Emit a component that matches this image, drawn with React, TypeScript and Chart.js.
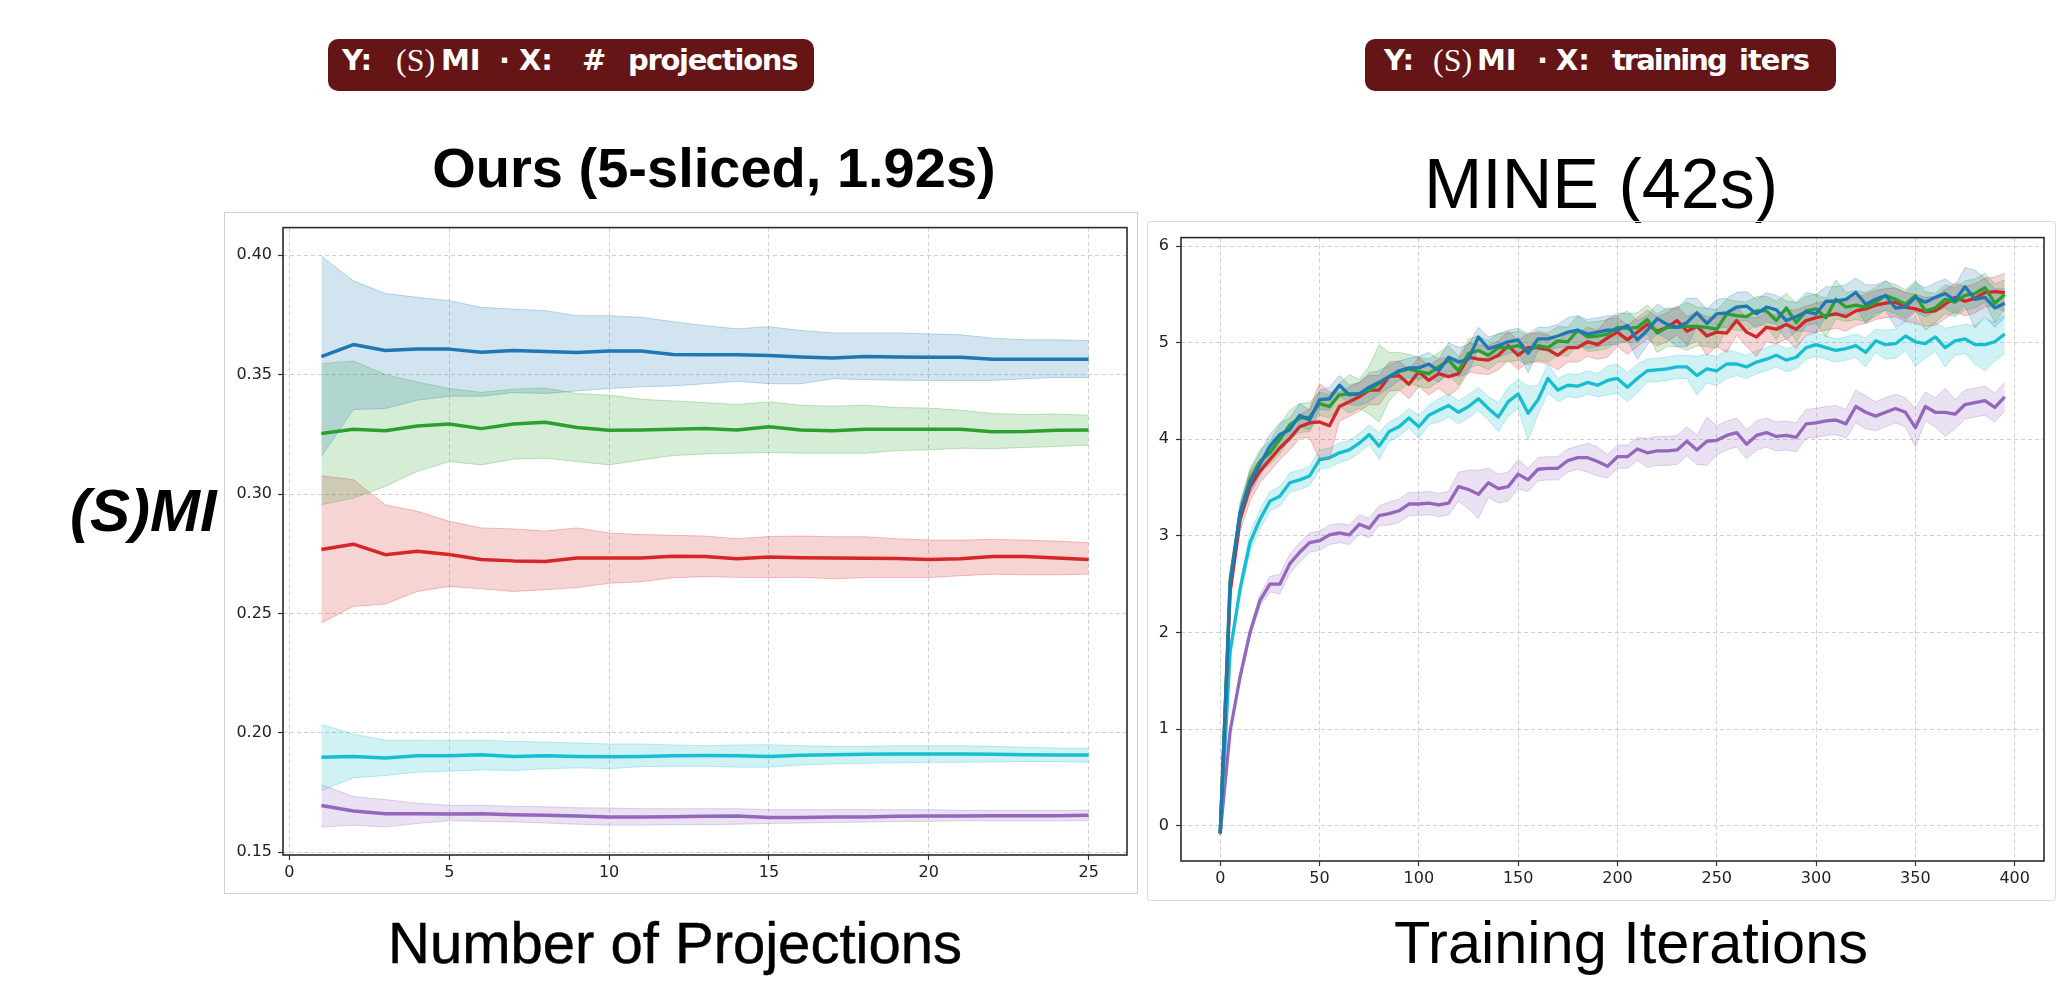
import React, { useEffect, useRef } from "react";
import { Chart, registerables } from "chart.js";

Chart.register(...registerables);
Chart.defaults.font.family = "'DejaVu Sans', sans-serif";

// ---------------- Left panel: SMI vs number of projections ----------------
const projX = [1, 2, 3, 4, 5, 6, 7, 8, 9, 10, 11, 12, 13, 14, 15, 16, 17, 18, 19, 20, 21, 22, 23, 24, 25];
const projXTicks = [0, 5, 10, 15, 20, 25];
const projYTicks = [0.15, 0.2, 0.25, 0.3, 0.35, 0.4];

const projBlueMean = [0.3576, 0.3626, 0.3601, 0.3607, 0.3607, 0.3594, 0.3601, 0.3597, 0.3593, 0.3599, 0.3599, 0.3584, 0.3583, 0.3583, 0.358, 0.3574, 0.357, 0.3576, 0.3574, 0.3573, 0.3573, 0.3565, 0.3565, 0.3565, 0.3565];
const projBlueUpper = [0.3997, 0.3893, 0.384, 0.3824, 0.381, 0.3782, 0.3775, 0.3768, 0.3747, 0.3747, 0.374, 0.3722, 0.3705, 0.3692, 0.3701, 0.3685, 0.3675, 0.3675, 0.3675, 0.3671, 0.3667, 0.3653, 0.3646, 0.3646, 0.3643];
const projBlueLower = [0.3157, 0.3354, 0.3358, 0.3393, 0.341, 0.341, 0.3425, 0.3421, 0.3432, 0.3442, 0.3449, 0.3453, 0.3462, 0.3472, 0.3462, 0.3462, 0.3483, 0.3479, 0.3477, 0.3476, 0.3476, 0.3476, 0.3483, 0.3488, 0.3488];

const projGreenMean = [0.3254, 0.3271, 0.3265, 0.3285, 0.3293, 0.3274, 0.3293, 0.3301, 0.3279, 0.3267, 0.3268, 0.3271, 0.3275, 0.3268, 0.3282, 0.3268, 0.3265, 0.3271, 0.3271, 0.3271, 0.3271, 0.3261, 0.3262, 0.3267, 0.3268];
const projGreenUpper = [0.3546, 0.3557, 0.3501, 0.3469, 0.3442, 0.3426, 0.3439, 0.3444, 0.3421, 0.3414, 0.3397, 0.339, 0.3383, 0.3375, 0.3386, 0.3372, 0.3368, 0.3372, 0.3362, 0.336, 0.3351, 0.3337, 0.3333, 0.3335, 0.333];
const projGreenLower = [0.2955, 0.2983, 0.3032, 0.3095, 0.3136, 0.3122, 0.3146, 0.315, 0.3136, 0.3122, 0.3143, 0.3161, 0.3168, 0.3171, 0.3174, 0.3171, 0.3171, 0.3171, 0.3182, 0.3185, 0.3192, 0.319, 0.3195, 0.3199, 0.3205];

const projRedMean = [0.2768, 0.279, 0.2746, 0.276, 0.2747, 0.2726, 0.272, 0.2717, 0.2732, 0.2732, 0.2732, 0.2739, 0.2738, 0.2729, 0.2736, 0.2733, 0.2732, 0.2731, 0.273, 0.2726, 0.2729, 0.2738, 0.2738, 0.2732, 0.2726];
const projRedUpper = [0.3076, 0.306, 0.2955, 0.2928, 0.2886, 0.2858, 0.2854, 0.2845, 0.2858, 0.2837, 0.283, 0.2827, 0.2824, 0.2813, 0.2822, 0.2824, 0.2821, 0.2821, 0.2813, 0.2807, 0.2807, 0.281, 0.2807, 0.2803, 0.2796];
const projRedLower = [0.246, 0.2529, 0.2539, 0.2592, 0.2613, 0.2603, 0.2592, 0.2599, 0.2608, 0.2626, 0.2633, 0.2649, 0.2654, 0.2651, 0.265, 0.2651, 0.2645, 0.265, 0.265, 0.265, 0.2658, 0.2664, 0.2662, 0.2662, 0.2664];

const projCyanMean = [0.1897, 0.1901, 0.1894, 0.1904, 0.1904, 0.1908, 0.1901, 0.1904, 0.1901, 0.19, 0.1901, 0.1904, 0.1905, 0.1904, 0.1901, 0.1906, 0.1908, 0.191, 0.1911, 0.1911, 0.1911, 0.191, 0.1908, 0.1907, 0.1907];
const projCyanUpper = [0.2036, 0.1994, 0.1969, 0.1969, 0.1967, 0.1969, 0.1964, 0.1961, 0.1957, 0.1953, 0.1953, 0.1949, 0.1946, 0.1949, 0.195, 0.1946, 0.1943, 0.1943, 0.1946, 0.1946, 0.1946, 0.1943, 0.1939, 0.1936, 0.1935];
const projCyanLower = [0.1758, 0.1811, 0.1821, 0.1835, 0.1839, 0.1844, 0.1842, 0.1849, 0.1853, 0.1849, 0.1858, 0.186, 0.186, 0.1856, 0.1856, 0.1865, 0.1869, 0.1872, 0.1874, 0.1876, 0.1876, 0.1878, 0.1879, 0.1879, 0.1876];

const projPurpleMean = [0.1695, 0.1672, 0.1661, 0.1661, 0.166, 0.1661, 0.1657, 0.1654, 0.1651, 0.1647, 0.1647, 0.1648, 0.165, 0.1651, 0.1645, 0.1645, 0.1647, 0.1647, 0.165, 0.1651, 0.1651, 0.1652, 0.1652, 0.1652, 0.1654];
const projPurpleUpper = [0.1783, 0.1733, 0.172, 0.1705, 0.1696, 0.1696, 0.1692, 0.169, 0.1686, 0.1685, 0.1682, 0.1682, 0.1682, 0.1682, 0.1678, 0.1678, 0.1678, 0.1678, 0.1678, 0.1678, 0.1675, 0.1675, 0.1675, 0.1675, 0.1675];
const projPurpleLower = [0.1605, 0.1613, 0.1605, 0.162, 0.1631, 0.1629, 0.1626, 0.1622, 0.1617, 0.1613, 0.1613, 0.1615, 0.1615, 0.1617, 0.162, 0.1622, 0.1624, 0.1626, 0.1628, 0.1629, 0.1631, 0.1631, 0.1631, 0.1631, 0.1631];

// ---------------- Right panel: MINE vs training iterations ----------------
const iterX = [
  0, 5, 10, 15, 20, 25, 30, 35, 40, 45,
  50, 55, 60, 65, 70, 75, 80, 85, 90, 95,
  100, 105, 110, 115, 120, 125, 130, 135, 140, 145,
  150, 155, 160, 165, 170, 175, 180, 185, 190, 195,
  200, 205, 210, 215, 220, 225, 230, 235, 240, 245,
  250, 255, 260, 265, 270, 275, 280, 285, 290, 295,
  300, 305, 310, 315, 320, 325, 330, 335, 340, 345,
  350, 355, 360, 365, 370, 375, 380, 385, 390, 395,
];
const iterXTicks = [0, 50, 100, 150, 200, 250, 300, 350, 400];
const iterYTicks = [0, 1, 2, 3, 4, 5, 6];

const iterBlueMean = [
  -0.08, 2.5, 3.24, 3.55, 3.74, 3.93, 4.05, 4.1, 4.25, 4.2,
  4.41, 4.42, 4.56, 4.46, 4.47, 4.54, 4.59, 4.65, 4.71, 4.74,
  4.74, 4.78, 4.71, 4.85, 4.8, 4.83, 5.06, 4.94, 4.97, 5.01,
  5.03, 4.89, 5.04, 5.04, 5.07, 5.11, 5.13, 5.09, 5.11, 5.13,
  5.13, 5.18, 5.03, 5.13, 5.25, 5.19, 5.16, 5.21, 5.31, 5.2,
  5.3, 5.31, 5.37, 5.38, 5.3, 5.37, 5.34, 5.23, 5.27, 5.32,
  5.3, 5.43, 5.43, 5.45, 5.52, 5.4, 5.45, 5.49, 5.36, 5.37,
  5.47, 5.42, 5.47, 5.51, 5.44, 5.58, 5.45, 5.47, 5.36, 5.41,
];
const iterBlueSpread = [
  0.02, 0.06, 0.1, 0.12, 0.12, 0.12, 0.12, 0.12, 0.12, 0.1,
  0.1, 0.12, 0.1, 0.1, 0.12, 0.15, 0.12, 0.12, 0.1, 0.1,
  0.12, 0.12, 0.12, 0.15, 0.15, 0.15, 0.1, 0.12, 0.12, 0.12,
  0.12, 0.2, 0.12, 0.12, 0.12, 0.15, 0.15, 0.15, 0.15, 0.15,
  0.15, 0.15, 0.2, 0.15, 0.15, 0.15, 0.2, 0.25, 0.15, 0.15,
  0.15, 0.15, 0.15, 0.15, 0.15, 0.15, 0.15, 0.2, 0.15, 0.2,
  0.2, 0.15, 0.15, 0.15, 0.15, 0.2, 0.15, 0.15, 0.2, 0.15,
  0.15, 0.15, 0.15, 0.15, 0.15, 0.2, 0.3, 0.2, 0.2, 0.15,
];

const iterGreenMean = [
  -0.08, 2.55, 3.24, 3.58, 3.77, 3.86, 4.0, 4.15, 4.22, 4.23,
  4.37, 4.34, 4.46, 4.47, 4.47, 4.51, 4.58, 4.65, 4.7, 4.73,
  4.7, 4.68, 4.75, 4.82, 4.71, 4.89, 4.92, 4.87, 4.95, 4.95,
  4.97, 4.92, 4.97, 4.95, 5.02, 5.01, 5.13, 5.06, 5.07, 5.09,
  5.16, 5.15, 5.16, 5.24, 5.1, 5.16, 5.16, 5.17, 5.17, 5.16,
  5.14, 5.3, 5.28, 5.27, 5.33, 5.33, 5.23, 5.36, 5.21, 5.33,
  5.35, 5.26, 5.45, 5.37, 5.39, 5.37, 5.42, 5.49, 5.45, 5.4,
  5.49, 5.33, 5.36, 5.45, 5.42, 5.49, 5.51, 5.57, 5.41, 5.5,
];
const iterGreenSpread = [
  0.02, 0.06, 0.1, 0.12, 0.12, 0.12, 0.15, 0.15, 0.15, 0.15,
  0.12, 0.12, 0.12, 0.2, 0.15, 0.25, 0.4, 0.25, 0.2, 0.15,
  0.15, 0.15, 0.15, 0.15, 0.15, 0.15, 0.15, 0.15, 0.15, 0.15,
  0.15, 0.15, 0.15, 0.15, 0.15, 0.15, 0.15, 0.15, 0.15, 0.15,
  0.15, 0.15, 0.15, 0.15, 0.2, 0.2, 0.2, 0.25, 0.2, 0.2,
  0.2, 0.15, 0.15, 0.15, 0.15, 0.15, 0.2, 0.15, 0.2, 0.15,
  0.15, 0.2, 0.2, 0.15, 0.15, 0.15, 0.15, 0.15, 0.15, 0.15,
  0.15, 0.2, 0.15, 0.15, 0.15, 0.15, 0.15, 0.15, 0.2, 0.15,
];

const iterRedMean = [
  -0.08, 2.42, 3.17, 3.51, 3.67, 3.79, 3.91, 4.01, 4.13, 4.17,
  4.18, 4.14, 4.34, 4.39, 4.44, 4.51, 4.51, 4.65, 4.66, 4.57,
  4.7, 4.61, 4.68, 4.65, 4.68, 4.85, 4.83, 4.82, 4.87, 4.97,
  4.87, 4.95, 4.95, 4.93, 4.87, 4.95, 4.95, 5.01, 4.98, 5.05,
  5.11, 5.03, 5.11, 5.19, 5.12, 5.16, 5.23, 5.12, 5.17, 5.07,
  5.11, 5.1, 5.23, 5.11, 5.06, 5.16, 5.14, 5.19, 5.14, 5.23,
  5.26, 5.28, 5.3, 5.27, 5.33, 5.35, 5.39, 5.41, 5.42, 5.37,
  5.35, 5.32, 5.33, 5.4, 5.47, 5.43, 5.46, 5.52, 5.53, 5.52,
];
const iterRedSpread = [
  0.02, 0.06, 0.12, 0.15, 0.12, 0.12, 0.12, 0.12, 0.12, 0.15,
  0.4, 0.35, 0.15, 0.15, 0.15, 0.15, 0.15, 0.15, 0.15, 0.15,
  0.15, 0.15, 0.15, 0.2, 0.15, 0.15, 0.15, 0.15, 0.15, 0.15,
  0.15, 0.15, 0.15, 0.15, 0.15, 0.15, 0.15, 0.15, 0.15, 0.2,
  0.15, 0.15, 0.15, 0.15, 0.15, 0.15, 0.15, 0.15, 0.15, 0.2,
  0.15, 0.2, 0.15, 0.15, 0.2, 0.15, 0.15, 0.15, 0.2, 0.15,
  0.15, 0.15, 0.15, 0.15, 0.15, 0.15, 0.15, 0.15, 0.15, 0.15,
  0.15, 0.15, 0.15, 0.15, 0.15, 0.15, 0.15, 0.15, 0.15, 0.2,
];

const iterCyanMean = [
  -0.08, 1.8, 2.45, 2.93, 3.17, 3.36, 3.41, 3.55, 3.58, 3.62,
  3.79, 3.81, 3.86, 3.89, 3.96, 4.05, 3.93, 4.08, 4.13, 4.22,
  4.13, 4.25, 4.3, 4.35, 4.28, 4.34, 4.42, 4.32, 4.23, 4.39,
  4.47, 4.27, 4.41, 4.63, 4.51, 4.56, 4.55, 4.59, 4.56, 4.61,
  4.63, 4.54, 4.63, 4.71, 4.72, 4.73, 4.75, 4.75, 4.66, 4.73,
  4.71, 4.78, 4.78, 4.75, 4.8, 4.83, 4.87, 4.82, 4.85, 4.95,
  4.98, 4.95, 4.92, 4.94, 4.97, 4.9, 5.02, 4.98, 4.99, 5.07,
  5.01, 4.99, 5.06, 4.95, 5.02, 5.04, 4.98, 4.98, 5.01, 5.09,
];
const iterCyanSpread = [
  0.02, 0.06, 0.08, 0.1, 0.1, 0.1, 0.1, 0.1, 0.1, 0.1,
  0.1, 0.1, 0.1, 0.1, 0.1, 0.1, 0.14, 0.1, 0.1, 0.1,
  0.12, 0.1, 0.12, 0.12, 0.12, 0.12, 0.12, 0.12, 0.15, 0.15,
  0.15, 0.28, 0.15, 0.15, 0.12, 0.12, 0.12, 0.12, 0.12, 0.15,
  0.15, 0.15, 0.15, 0.12, 0.12, 0.12, 0.12, 0.12, 0.2, 0.15,
  0.15, 0.15, 0.12, 0.12, 0.12, 0.12, 0.12, 0.12, 0.12, 0.12,
  0.12, 0.12, 0.12, 0.12, 0.12, 0.15, 0.12, 0.15, 0.15, 0.15,
  0.25, 0.15, 0.15, 0.2, 0.15, 0.15, 0.2, 0.27, 0.2, 0.2,
];

const iterPurpleMean = [
  -0.08, 0.98, 1.54, 2.0, 2.33, 2.5, 2.5, 2.71, 2.83, 2.93,
  2.95, 3.01, 3.03, 3.01, 3.12, 3.08, 3.21, 3.23, 3.26, 3.33,
  3.33, 3.34, 3.32, 3.34, 3.51, 3.48, 3.43, 3.55, 3.49, 3.51,
  3.64, 3.58, 3.69, 3.7, 3.7, 3.78, 3.81, 3.81, 3.77, 3.72,
  3.82, 3.82, 3.9, 3.86, 3.88, 3.88, 3.89, 3.98, 3.89, 3.98,
  3.99, 4.04, 4.07, 3.95, 4.04, 4.07, 4.03, 4.04, 4.02, 4.16,
  4.17, 4.19, 4.2, 4.16, 4.34, 4.28, 4.24, 4.28, 4.32, 4.28,
  4.12, 4.34, 4.28, 4.28, 4.26, 4.36, 4.38, 4.4, 4.33, 4.44,
];
const iterPurpleSpread = [
  0.02, 0.03, 0.04, 0.05, 0.06, 0.08, 0.1, 0.1, 0.1, 0.1,
  0.1, 0.1, 0.1, 0.1, 0.1, 0.1, 0.1, 0.12, 0.12, 0.12,
  0.12, 0.12, 0.12, 0.12, 0.15, 0.2, 0.25, 0.15, 0.15, 0.15,
  0.15, 0.12, 0.12, 0.12, 0.12, 0.12, 0.12, 0.15, 0.15, 0.12,
  0.12, 0.12, 0.12, 0.15, 0.15, 0.15, 0.15, 0.15, 0.15, 0.25,
  0.15, 0.15, 0.15, 0.15, 0.15, 0.15, 0.15, 0.15, 0.15, 0.15,
  0.15, 0.15, 0.15, 0.15, 0.17, 0.17, 0.15, 0.15, 0.15, 0.15,
  0.2, 0.15, 0.15, 0.25, 0.15, 0.15, 0.15, 0.15, 0.15, 0.15,
];

// ---------------- helpers ----------------
const BLUE = [31, 119, 180];
const GREEN = [44, 160, 44];
const RED = [214, 39, 40];
const CYAN = [23, 190, 207];
const PURPLE = [148, 103, 189];

const rgba = (c: number[], a: number) => `rgba(${c[0]},${c[1]},${c[2]},${a})`;

function series(xs: number[], mean: number[], upper: number[], lower: number[], c: number[], lw: number) {
  const pts = (arr: number[]) => xs.map((x, i) => ({ x, y: arr[i] }));
  return [
    {
      data: pts(upper), borderColor: rgba(c, 0.28), borderWidth: 1, backgroundColor: rgba(c, 0.2),
      fill: "+1", pointRadius: 0, tension: 0,
    },
    {
      data: pts(lower), borderColor: rgba(c, 0.28), borderWidth: 1, backgroundColor: rgba(c, 0.2),
      fill: false, pointRadius: 0, tension: 0,
    },
    {
      data: pts(mean), borderColor: rgba(c, 1), borderWidth: lw, fill: false, pointRadius: 0, tension: 0,
      borderJoinStyle: "round", borderCapStyle: "butt",
    },
  ];
}

const withSpread = (mean: number[], spread: number[], sign: number) => mean.map((m, i) => m + sign * spread[i]);

const spinePlugin = {
  id: "spines",
  afterDatasetsDraw(chart: any) {
    const { ctx, chartArea: a } = chart;
    ctx.save();
    ctx.setLineDash([]);
    ctx.strokeStyle = "#2b2b2b";
    ctx.lineWidth = 1.6;
    ctx.strokeRect(a.left, a.top, a.right - a.left, a.bottom - a.top);
    ctx.restore();
  },
};

function axis(min: number, max: number, ticks: number[], fmt: (v: number) => string, fit: (s: any) => void, pad: number) {
  return {
    type: "linear",
    min,
    max,
    afterBuildTicks: (s: any) => {
      s.ticks = ticks.map((v) => ({ value: v }));
    },
    afterFit: fit,
    grid: { color: "#cfcfcf", lineWidth: 1, tickColor: "#333", tickLength: 5, tickWidth: 1.2 },
    border: { display: false, dash: [4, 3] },
    ticks: {
      padding: pad,
      color: "#222",
      font: { family: "'DejaVu Sans', sans-serif", size: 16 },
      maxRotation: 0,
      autoSkip: false,
      callback: (v: any) => fmt(Number(v)),
    },
  };
}

function makeConfig(datasets: any[], x: any, y: any, padding: any) {
  return {
    type: "line",
    data: { datasets },
    options: {
      animation: false,
      responsive: false,
      events: [],
      layout: { padding },
      plugins: {
        legend: { display: false },
        tooltip: { enabled: false },
        filler: { propagate: false, drawTime: "beforeDatasetsDraw" },
      },
      scales: { x, y },
    },
    plugins: [spinePlugin],
  } as any;
}

function leftConfig() {
  const ds = [
    ...series(projX, projBlueMean, projBlueUpper, projBlueLower, BLUE, 3.5),
    ...series(projX, projGreenMean, projGreenUpper, projGreenLower, GREEN, 3.5),
    ...series(projX, projRedMean, projRedUpper, projRedLower, RED, 3.5),
    ...series(projX, projCyanMean, projCyanUpper, projCyanLower, CYAN, 3.5),
    ...series(projX, projPurpleMean, projPurpleUpper, projPurpleLower, PURPLE, 3.5),
  ];
  return makeConfig(
    ds,
    axis(-0.2, 26.2, projXTicks, (v) => String(v), (s) => { s.height = 38; }, 3),
    axis(0.1488, 0.4116, projYTicks, (v) => v.toFixed(2), (s) => { s.width = 59; }, 6),
    { left: 0, top: 11, right: 10, bottom: 0 }
  );
}

function rightConfig() {
  const mk = (m: number[], s: number[], c: number[]) => series(iterX, m, withSpread(m, s, 1), withSpread(m, s, -1), c, 3.3);
  const ds = [
    ...mk(iterBlueMean, iterBlueSpread, BLUE),
    ...mk(iterGreenMean, iterGreenSpread, GREEN),
    ...mk(iterRedMean, iterRedSpread, RED),
    ...mk(iterCyanMean, iterCyanSpread, CYAN),
    ...mk(iterPurpleMean, iterPurpleSpread, PURPLE),
  ];
  return makeConfig(
    ds,
    axis(-19.75, 414.75, iterXTicks, (v) => String(v), (s) => { s.height = 40; }, 3),
    axis(-0.367, 6.089, iterYTicks, (v) => String(v), (s) => { s.width = 34; }, 7),
    { left: 0, top: 12, right: 12, bottom: 0 }
  );
}

function ChartCanvas({ make, left, top, width, height }: any) {
  const ref = useRef<HTMLCanvasElement>(null);
  useEffect(() => {
    const chart = new Chart(ref.current as HTMLCanvasElement, make());
    return () => chart.destroy();
  }, []);
  return (
    <canvas
      ref={ref}
      width={width}
      height={height}
      style={{ position: "absolute", left, top, width, height }}
    />
  );
}

const abs = (s: any): any => ({ position: "absolute", whiteSpace: "nowrap", lineHeight: 1, margin: 0, ...s });

const BADGE_BASE = 71;
const SANS_PX = 29;
const SERIF_PX = 32;

function Badge({ left, width, parts }: any) {
  return (
    <>
      <div style={abs({ left, top: 39, width, height: 52, background: "#651515", borderRadius: 10 })} />
      {parts.map((p: any, i: number) => (
        <div
          key={i}
          style={abs({
            left: p.x,
            top: p.serif ? BADGE_BASE - 0.8375 * SERIF_PX : BADGE_BASE - 0.846 * SANS_PX,
            color: "#fff",
            fontFamily: p.serif ? "'Liberation Serif', 'DejaVu Serif', serif" : "'DejaVu Sans', sans-serif",
            fontWeight: p.serif ? 400 : 700,
            fontSize: p.serif ? SERIF_PX : SANS_PX,
            letterSpacing: p.ls || 0,
          })}
        >
          {p.t}
        </div>
      ))}
    </>
  );
}

export default function App() {
  useEffect(() => {
    document.body.style.margin = "0";
  }, []);
  const sans = "'Liberation Sans', Arial, sans-serif";
  return (
    <div style={{ position: "absolute", left: 0, top: 0, width: 2060, height: 982, background: "#fff", overflow: "hidden" }}>
      <Badge
        left={328}
        width={486}
        parts={[
          { x: 342, t: "Y:" },
          { x: 396, t: "(S)", serif: true },
          { x: 441, t: "MI" },
          { x: 499, t: "·" },
          { x: 519, t: "X:" },
          { x: 582, t: "#" },
          { x: 628, t: "projections", ls: -1.3 },
        ]}
      />
      <Badge
        left={1365}
        width={471}
        parts={[
          { x: 1384, t: "Y:" },
          { x: 1433, t: "(S)", serif: true },
          { x: 1477, t: "MI" },
          { x: 1537, t: "·" },
          { x: 1556, t: "X:" },
          { x: 1612, t: "training", ls: -2 },
          { x: 1739, t: "iters", ls: -1 },
        ]}
      />

      <div style={abs({ left: 714, top: 187 - 0.846 * 56, transform: "translateX(-50%)", fontFamily: sans, fontWeight: 700, fontSize: 56, color: "#000" })}>
        Ours (5-sliced, 1.92s)
      </div>
      <div style={abs({ left: 1601, top: 208 - 0.846 * 70, transform: "translateX(-50%)", fontFamily: sans, fontWeight: 400, fontSize: 70, color: "#000" })}>
        MINE (42s)
      </div>

      <div style={abs({ left: 70, top: 532 - 0.846 * 60, fontFamily: sans, fontWeight: 700, fontStyle: "italic", fontSize: 60, color: "#000" })}>
        (S)MI
      </div>

      <ChartCanvas make={leftConfig} left={224} top={212} width={913} height={681} />
      <ChartCanvas make={rightConfig} left={1147} top={221} width={909} height={680} />

      <div style={abs({ left: 224, top: 212, width: 914, height: 682, boxSizing: "border-box", border: "1px solid #cfcfcf", pointerEvents: "none" })} />
      <div style={abs({ left: 1147, top: 221, width: 909, height: 680, boxSizing: "border-box", border: "1px solid #dcdcdc", borderRadius: 3, pointerEvents: "none" })} />

      <div style={abs({ left: 675, top: 963 - 0.846 * 58, transform: "translateX(-50%)", fontFamily: sans, fontSize: 58, color: "#000", WebkitTextStroke: "0.5px #000" })}>
        Number of Projections
      </div>
      <div style={abs({ left: 1631, top: 963 - 0.846 * 59.5, transform: "translateX(-50%)", fontFamily: sans, fontSize: 59.5, color: "#000" })}>
        Training Iterations
      </div>
    </div>
  );
}
